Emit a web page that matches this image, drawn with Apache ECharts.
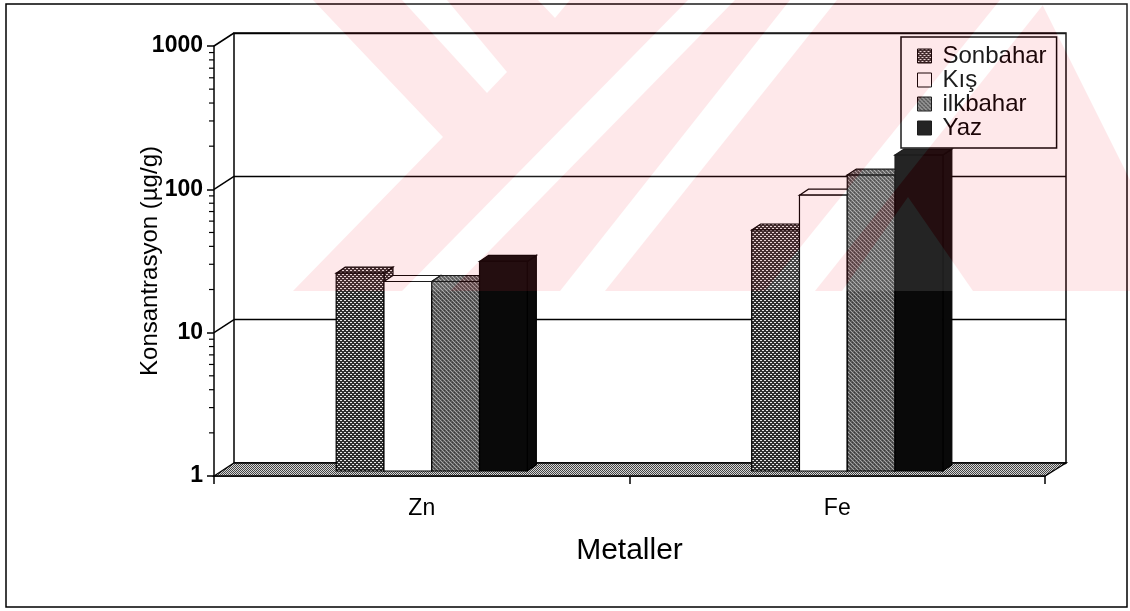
<!DOCTYPE html>
<html>
<head>
<meta charset="utf-8">
<script src="https://cdn.jsdelivr.net/npm/echarts@6/dist/echarts.min.js"></script>
<style>
html,body{margin:0;padding:0;background:#fff;}
#chart{width:1130px;height:611px;}
</style>
</head>
<body>
<div id="chart"></div>
<script>
// ---- data ----
const categories = ['Zn', 'Fe'];
const seriesNames = ['Sonbahar', 'Kış', 'ilkbahar', 'Yaz'];
const sonbahar = [24, 48];
const kis = [21, 84];
const ilkbahar = [21, 116];
const yaz = [29, 160];
const yTickLabels = ['1', '10', '100', '1000'];
const minorTickValues = [2, 3, 4, 5, 6, 7, 8, 9, 20, 30, 40, 50, 60, 70, 80, 90, 200, 300, 400, 500, 600, 700, 800, 900];
const xName = 'Metaller';
const yName = 'Konsantrasyon (µg/g)';

// ---- layout / style ----
const FONT = '"Liberation Sans", Arial, Helvetica, sans-serif';
const front = { left: 214, top: 46, width: 831, height: 430 };
const back = { left: 234, top: 33, width: 832, height: 430 };
const bars = { left: 224, top: 41, width: 831, height: 430 };
const DEPTH_X = 9, DEPTH_Y = 6;

function makePattern(size, draw) {
  const c = document.createElement('canvas');
  c.width = size; c.height = size;
  const ctx = c.getContext('2d');
  draw(ctx);
  return { image: c, repeat: 'repeat' };
}
const patSonbahar = makePattern(4, (g) => {
  g.fillStyle = '#2e2e2e'; g.fillRect(0, 0, 4, 4);
  g.fillStyle = '#e6e6e6';
  g.fillRect(0, 0, 2, 1); g.fillRect(2, 2, 2, 1);
});
const patIlkbahar = makePattern(4, (g) => {
  g.fillStyle = '#5c5c5c'; g.fillRect(0, 0, 4, 4);
  g.fillStyle = '#a6a6a6';
  g.fillRect(0, 0, 1, 1); g.fillRect(1, 1, 1, 1); g.fillRect(2, 2, 1, 1); g.fillRect(3, 3, 1, 1);
  g.fillStyle = '#3a3a3a';
  g.fillRect(2, 0, 1, 1); g.fillRect(0, 2, 1, 1);
});
const patFloor = makePattern(2, (g) => {
  g.fillStyle = '#d6d6d6'; g.fillRect(0, 0, 2, 2);
  g.fillStyle = '#444444'; g.fillRect(0, 0, 1, 1); g.fillRect(1, 1, 1, 1);
});
const fills = [patSonbahar, '#ffffff', patIlkbahar, '#090909'];
const seriesData = [sonbahar, kis, ilkbahar, yaz];

function barRenderer(si) {
  return function (params, api) {
    const cat = api.value(0), v = api.value(1);
    const top = api.coord([cat, v]);
    const base = api.coord([cat, 1]);
    const cw = api.size([1, 0])[0];
    const bw = cw * 0.46 / 4;
    const x = top[0] - 2 * bw + si * bw;
    const yt = top[1], yb = base[1];
    const f = fills[si];
    const st = { fill: f, stroke: '#000', lineWidth: 1.2 };
    return {
      type: 'group',
      children: [
        { type: 'polygon', shape: { points: [[x + bw, yt], [x + bw + DEPTH_X, yt - DEPTH_Y], [x + bw + DEPTH_X, yb - DEPTH_Y], [x + bw, yb]] }, style: st },
        { type: 'polygon', shape: { points: [[x, yt], [x + DEPTH_X, yt - DEPTH_Y], [x + bw + DEPTH_X, yt - DEPTH_Y], [x + bw, yt]] }, style: st },
        { type: 'rect', shape: { x: x, y: yt, width: bw, height: yb - yt }, style: st }
      ]
    };
  };
}

function buildWatermark() {
  const c = document.createElement('canvas');
  c.width = 1130; c.height = 611;
  const g = c.getContext('2d');
  const poly = (pts) => {
    g.beginPath(); g.moveTo(pts[0][0], pts[0][1]);
    for (let i = 1; i < pts.length; i++) g.lineTo(pts[i][0], pts[i][1]);
    g.closePath(); g.fill();
  };
  g.fillStyle = 'rgb(250,54,71)';
  poly([[313, 0], [1130, 0], [1130, 291], [293, 291], [443, 137]]);
  g.globalCompositeOperation = 'destination-out';
  g.fillStyle = '#000';
  poly([[402, 0], [447, 0], [507, 72], [487, 93]]);
  poly([[538, 0], [570, 0], [555, 18]]);
  poly([[402, 291], [450, 291], [735, 0], [688, 0]]);
  poly([[560, 291], [605, 291], [837, 0], [790, 0]]);
  poly([[765, 291], [815, 291], [1047, 0], [1000, 0]]);
  poly([[842, 291], [973, 291], [908, 197]]);
  poly([[1040, 0], [1130, 0], [1130, 180]]);
  g.globalCompositeOperation = 'destination-over';
  g.fillStyle = '#ffffff';
  g.fillRect(290, 0, 840, 291);
  return c;
}

const chart = echarts.init(document.getElementById('chart'), null, { renderer: 'canvas' });

const gridCommon = { containLabel: false, outerBoundsMode: 'none' };
const option = {
  backgroundColor: '#ffffff',
  animation: false,
  grid: [
    Object.assign({}, gridCommon, front),
    Object.assign({}, gridCommon, back, { show: true, borderColor: '#000', borderWidth: 1.5, backgroundColor: 'transparent' }),
    Object.assign({}, gridCommon, bars)
  ],
  legend: {
    orient: 'vertical',
    left: 901, top: 37,
    padding: [7, 10, 8, 16],
    itemGap: 0,
    itemWidth: 14, itemHeight: 14,
    borderColor: '#000', borderWidth: 1.5,
    backgroundColor: 'transparent',
    selectedMode: false,
    textStyle: { fontFamily: FONT, fontSize: 24, color: '#000', lineHeight: 23.5, padding: [0, 0, 0, 6] },
    data: seriesNames.map((n, i) => ({
      name: n, icon: 'rect',
      itemStyle: { color: fills[i], borderColor: '#000', borderWidth: 1 }
    }))
  },
  xAxis: [
    {
      gridIndex: 0, type: 'category', data: categories,
      axisLine: { show: true, lineStyle: { color: '#000', width: 1.5 } },
      axisTick: { show: true, interval: 0, length: 8, lineStyle: { color: '#000', width: 1.5 } },
      axisLabel: { fontFamily: FONT, fontSize: 23, color: '#000', margin: 21 },
      splitLine: { show: false },
      name: xName, nameLocation: 'middle', nameGap: 60, nameMoveOverlap: false,
      nameTextStyle: { fontFamily: FONT, fontSize: 30, color: '#000' }
    },
    { gridIndex: 1, type: 'category', data: categories, show: false },
    { gridIndex: 2, type: 'category', data: categories, show: false }
  ],
  yAxis: [
    {
      gridIndex: 0, type: 'log', logBase: 10, min: 1, max: 1000,
      axisLine: { show: true, lineStyle: { color: '#000', width: 1.5 } },
      axisTick: { show: true, length: 7, lineStyle: { color: '#000', width: 1.5 } },
      axisLabel: {
        fontFamily: FONT, fontSize: 23, fontWeight: 'bold', color: '#000', margin: 11,
        formatter: (v) => yTickLabels[Math.round(Math.log10(v))]
      },
      splitLine: { show: false },
      name: yName, nameLocation: 'middle', nameGap: 52, nameMoveOverlap: false,
      nameTextStyle: { fontFamily: FONT, fontSize: 24, color: '#000' }
    },
    {
      gridIndex: 1, type: 'log', logBase: 10, min: 1, max: 1000,
      axisLine: { show: false }, axisTick: { show: false }, axisLabel: { show: false },
      splitLine: { show: true, lineStyle: { color: '#000', width: 1.3 } }
    },
    {
      gridIndex: 2, type: 'log', logBase: 10, min: 1, max: 1000,
      axisLine: { show: false }, axisTick: { show: false }, axisLabel: { show: false },
      splitLine: { show: false }
    }
  ],
  series: [
    {
      type: 'custom', name: '_minorTicks', xAxisIndex: 0, yAxisIndex: 0, silent: true,
      data: minorTickValues.map((v) => [0, v]),
      encode: { x: 0, y: 1 },
      renderItem: function (params, api) {
        const y = api.coord([0, api.value(1)])[1];
        const x = params.coordSys.x;
        return { type: 'line', shape: { x1: x - 5, y1: y, x2: x, y2: y }, style: { stroke: '#000', lineWidth: 1.2 } };
      },
      z: 3
    }
  ].concat(seriesNames.map((n, i) => ({
    type: 'custom', name: n, xAxisIndex: 2, yAxisIndex: 2,
    data: seriesData[i].map((v, k) => [k, v]),
    encode: { x: 0, y: 1 },
    itemStyle: { color: fills[i], borderColor: '#000' },
    renderItem: barRenderer(i),
    clip: false,
    z: 5
  })))
};
chart.setOption(option);

// frame decorations computed through the axes
const yF = (v) => chart.convertToPixel({ yAxisIndex: 0 }, v);
const yB = (v) => chart.convertToPixel({ yAxisIndex: 1 }, v);
const fL = front.left, fR = front.left + front.width;
const bL = back.left, bR = back.left + back.width;
const graphics = [];
graphics.push({
  type: 'polygon', z: 1, silent: true,
  shape: { points: [[fL, yF(1)], [fR, yF(1)], [bR, yB(1)], [bL, yB(1)]] },
  style: { fill: patFloor, stroke: '#000', lineWidth: 1.3 }
});
[10, 100, 1000].forEach((v) => {
  graphics.push({
    type: 'line', z: 1, silent: true,
    shape: { x1: fL, y1: yF(v), x2: bL, y2: yB(v) },
    style: { stroke: '#000', lineWidth: 1.5 }
  });
});
graphics.push({
  type: 'rect', z: 0, silent: true,
  shape: { x: 6, y: 4, width: 1121, height: 603 },
  style: { fill: 'none', stroke: '#000', lineWidth: 1.5 }
});
graphics.push({
  type: 'image', z: 100, silent: true,
  style: { image: buildWatermark(), x: 0, y: 0, width: 1130, height: 611, opacity: 0.11 }
});
chart.setOption({ graphic: graphics });
</script>
</body>
</html>
